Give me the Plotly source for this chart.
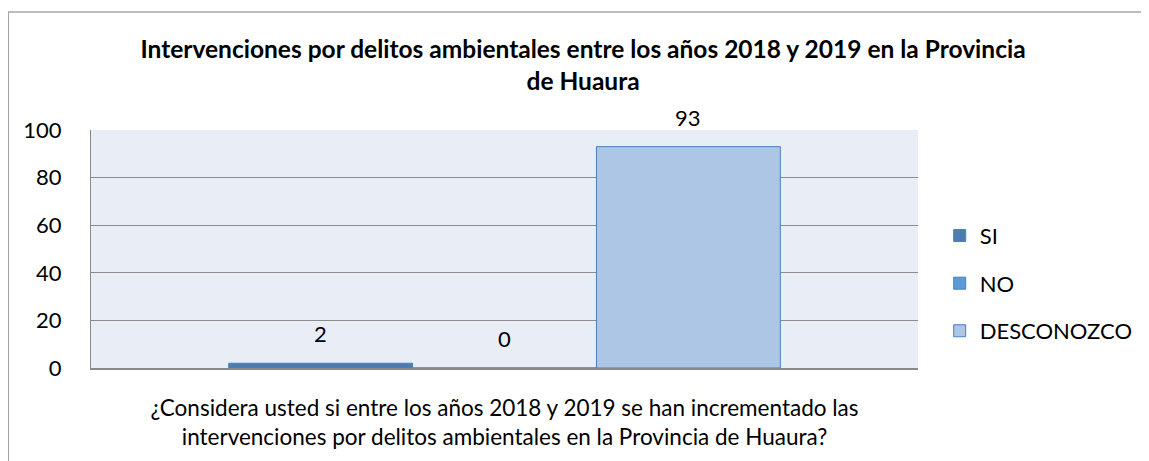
import plotly.graph_objects as go

categories = ["¿Considera usted si entre los años 2018 y 2019 se han incrementado las<br>intervenciones por delitos ambientales en la Provincia de Huaura?"]
series_names = ["SI", "NO", "DESCONOZCO"]
series_values = [[2], [0], [93]]
series_colors = ["#4A7EB1", "#5B9BD5", "#AEC6E5"]
y_ticks = [0, 20, 40, 60, 80, 100]

FONT = "Lato, 'Open Sans', sans-serif"
BARGAP = 0.333

fig = go.Figure()
n = len(series_names)
bar_w = (1 - BARGAP) / n
for i, (name, vals, col) in enumerate(zip(series_names, series_values, series_colors)):
    fig.add_trace(go.Bar(
        x=[0], y=vals, name=name, legendgroup=name,
        marker=dict(color=col, line=dict(color="#4A7EBB", width=1)),
    ))
    # data label above each bar
    for v in vals:
        fig.add_annotation(
            x=(i - (n - 1) / 2) * bar_w, y=v, xref="x", yref="y",
            text=str(v), showarrow=False, yanchor="bottom", yshift=14,
            font=dict(size=22, color="#000000", family=FONT),
        )

fig.update_layout(
    width=1141, height=453,
    margin=dict(l=83, r=230, t=122, b=93),
    paper_bgcolor="white",
    plot_bgcolor="#E9EDF6",
    barmode="group",
    bargap=BARGAP, bargroupgap=0,
    font=dict(family=FONT, size=22, color="#000000"),
    title=dict(
        text="<b>Intervenciones por delitos ambientales entre los años 2018 y 2019 en la Provincia<br>de Huaura</b>",
        x=0.595, xanchor="center", xref="paper",
        y=0.89, yanchor="middle",
        font=dict(size=24.5, family=FONT, color="#000000"),
    ),
    showlegend=True,
    legend=dict(
        x=1.025, xanchor="left", y=0.356, yanchor="middle",
        font=dict(size=22, family=FONT),
        itemwidth=30, tracegroupgap=16,
        bgcolor="rgba(0,0,0,0)",
    ),
    xaxis=dict(
        tickmode="array", tickvals=[0], ticktext=[""],
        range=[-0.5, 0.5],
        showgrid=False, zeroline=False,
        showline=True, linecolor="#8A8A8A", linewidth=2,
        title=dict(text=categories[0], font=dict(size=22.5, family=FONT), standoff=27),
    ),
    yaxis=dict(
        range=[0, 100], tickvals=y_ticks,
        showgrid=True, gridcolor="#8C8C8C", gridwidth=1,
        zeroline=False,
        showline=True, linecolor="#8A8A8A", linewidth=1,
        ticks="", ticklabelstandoff=24,
        tickfont=dict(size=22, family=FONT),
    ),
    shapes=[dict(
        type="rect", xref="paper", yref="paper",
        x0=-0.1, x1=1.5, y0=-1.0, y1=1.496,
        line=dict(color="#A6A6A6", width=1.5), fillcolor="rgba(0,0,0,0)",
        layer="below",
    )],
)

fig.write_html("out.html")
